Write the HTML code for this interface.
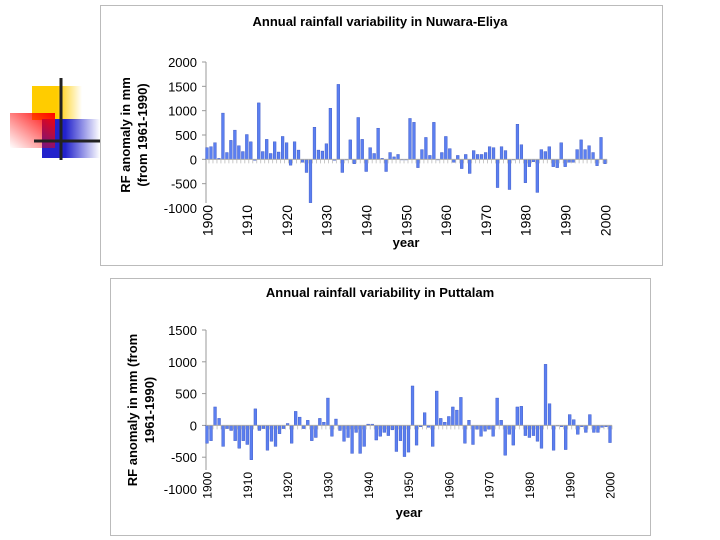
<!DOCTYPE html>
<html><head><meta charset="utf-8"><style>
body{margin:0;width:720px;height:540px;background:#fff;overflow:hidden;font-family:"Liberation Sans",Arial,sans-serif;}
svg{position:absolute;left:0;top:0}
text{font-family:"Liberation Sans",Arial,sans-serif;}
</style></head><body>
<svg id="svg" width="720" height="540">
<defs>
<linearGradient id="gy" x1="0" x2="1"><stop offset="0.5" stop-color="#ffcc00"/><stop offset="1" stop-color="#ffcc00" stop-opacity="0"/></linearGradient>
<linearGradient id="gr" x1="1" y1="0" x2="0" y2="1"><stop offset="0" stop-color="#ff0000"/><stop offset="1" stop-color="#ff0000" stop-opacity="0"/></linearGradient>
<linearGradient id="gb" x1="0" x2="1"><stop offset="0.4" stop-color="#2222cc"/><stop offset="1" stop-color="#2222cc" stop-opacity="0"/></linearGradient>
</defs>
<g>
<rect x="32" y="86" width="50" height="34" fill="url(#gy)"/>
<rect x="42" y="119" width="58" height="39" fill="url(#gb)"/>
<rect x="10" y="113" width="45" height="35" fill="url(#gr)"/>
<line x1="61" y1="78" x2="61" y2="160" stroke="#222" stroke-width="3"/>
<line x1="34" y1="141" x2="100" y2="141" stroke="#222" stroke-width="3"/>
</g>
<rect x="100.5" y="5.5" width="562" height="260" fill="none" stroke="#bbb"/>
<rect x="110.5" y="278.5" width="540" height="257" fill="none" stroke="#bbb"/>
<g id="c1"></g>
<g id="c2"></g>
</svg>
<script>
const years = []; for (let y = 1900; y <= 2000; y++) years.push(y);
const nuwaraValues = [240,260,340,20,950,140,390,600,280,160,510,360,-20,1160,160,410,120,360,150,470,340,-120,360,190,-60,-270,-890,660,190,170,320,1050,-20,1540,-270,0,400,-90,860,410,-250,240,120,640,20,-250,140,50,100,-10,-10,840,760,-170,200,450,80,760,0,140,470,220,-60,80,-190,100,-290,180,100,100,140,260,240,-580,260,180,-620,0,720,300,-480,-150,-50,-680,200,160,260,-150,-170,340,-150,-60,-60,200,400,200,280,140,-130,450,-90];
const puttalamValues = [-280,-240,290,110,-330,-50,-80,-240,-360,-240,-300,-540,260,-80,-50,-390,-250,-330,-130,-50,30,-280,220,130,-50,80,-240,-190,110,50,430,-170,100,-80,-250,-190,-440,-110,-440,-330,20,20,-230,-170,-110,-160,-70,-410,-240,-490,-420,620,-310,-20,200,-30,-330,540,110,50,140,290,240,440,-280,80,-300,-60,-170,-90,-60,-170,430,80,-470,-140,-310,290,300,-160,-190,-160,-250,-360,960,340,-390,0,-20,-380,170,90,-140,-20,-110,170,-110,-110,-30,-20,-270];
const nuwaraTicks = [2000,1500,1000,500,0,-500,-1000];
const puttalamTicks = [1500,1000,500,0,-500,-1000];
const decadeLabels = [1900,1910,1920,1930,1940,1950,1960,1970,1980,1990,2000];
const NS = 'http://www.w3.org/2000/svg';
function mk(parent, tag, attrs, txt){const e=document.createElementNS(NS,tag);for(const k in attrs)e.setAttribute(k,attrs[k]);if(txt!==undefined)e.textContent=txt;parent.appendChild(e);return e;}
function draw(g, cfg, values, ticks){
  const xS = y => cfg.x0 + (y-1900)*(cfg.x1-cfg.x0)/100;
  const yS = v => cfg.yTop + (ticks[0]-v)*(cfg.yBot-cfg.yTop)/(ticks[0]-ticks[ticks.length-1]);
  const t = mk(g,'text',{x:cfg.titleX,y:cfg.titleY,'text-anchor':'middle','font-size':13,'font-weight':'bold'},cfg.title);
  
  
  const yl = mk(g,'text',{transform:`translate(${cfg.ylX},${cfg.ylY}) rotate(-90)`,'text-anchor':'middle','font-size':13,'font-weight':'bold'});
  
  
  mk(yl,'tspan',{x:0,dy:0},cfg.yl1); mk(yl,'tspan',{x:0,dy:17},cfg.yl2);
  const ax = mk(g,'line',{x1:cfg.x0-1,x2:cfg.x0-1,y1:yS(ticks[0]),y2:cfg.axisEnd,stroke:'#999'});
  
  
  ticks.forEach(v=>{
    const tl = mk(g,'text',{x:cfg.x0-10,y:yS(v)+5,'text-anchor':'end','font-size':13},String(v));
    
    
    if (yS(v) <= cfg.axisEnd) mk(g,'line',{x1:cfg.x0-5,x2:cfg.x0-1,y1:yS(v),y2:yS(v),stroke:'#999'});
  });
  const step=(cfg.x1-cfg.x0)/100;
  values.forEach((v,i)=>{
    const x = xS(years[i]);
    const y0=yS(0), y1=yS(v);
    const r = mk(g,'rect',{x:x-step*0.35,y:Math.min(y0,y1),width:step*0.7,height:Math.max(0.6,Math.abs(y1-y0)),fill:'#5b7ff0',stroke:'#3550c0','stroke-width':0.4});
    
    
  });
  const zl = mk(g,'line',{x1:cfg.x0-1,x2:cfg.x1+2,y1:yS(0),y2:yS(0),stroke:'#aaa'});
  
  
  years.forEach(y=>mk(g,'line',{x1:xS(y)+step/2,x2:xS(y)+step/2,y1:yS(0),y2:yS(0)+4,stroke:'#bbb','stroke-width':0.8}));
  decadeLabels.forEach(d=>{
    const xt = mk(g,'text',{transform:`translate(${xS(d)+cfg.xlFont*0.38},${cfg.xlY}) rotate(-90)`,'text-anchor':'end','font-size':cfg.xlFont},String(d));
    
    
  });
  const xl = mk(g,'text',{x:cfg.yearX,y:cfg.yearY,'text-anchor':'middle','font-size':13,'font-weight':'bold'},'year');
  
  
}
draw(document.getElementById('c1'),{x0:207,x1:605,yTop:62,yBot:208,axisEnd:203,title:'Annual rainfall variability in Nuwara-Eliya',titleX:380,titleY:26,ylX:130,ylY:135,yl1:'RF anomaly in mm',yl2:'(from 1961-1990)',xlY:205,xlFont:14,yearX:406,yearY:247},nuwaraValues,nuwaraTicks);
draw(document.getElementById('c2'),{x0:207,x1:610,yTop:330,yBot:489,axisEnd:470,title:'Annual rainfall variability in Puttalam',titleX:380,titleY:297,ylX:137,ylY:410,yl1:'RF anomaly in mm (from',yl2:'1961-1990)',xlY:472,xlFont:12,yearX:409,yearY:517},puttalamValues,puttalamTicks);
</script>
</body></html>
